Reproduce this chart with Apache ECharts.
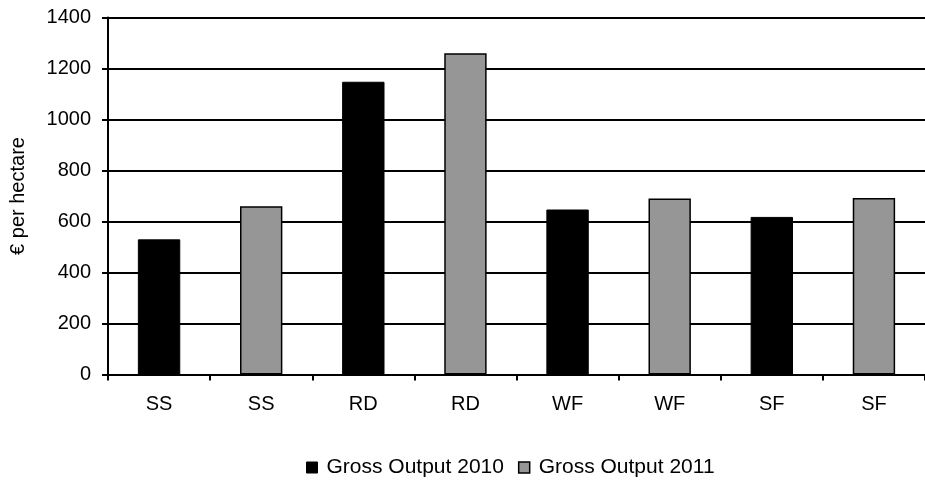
<!DOCTYPE html>
<html>
<head>
<meta charset="utf-8">
<script src="https://cdn.jsdelivr.net/npm/echarts@6/dist/echarts.min.js"></script>
<style>html,body{margin:0;padding:0;background:#fff;}#c{width:925px;height:481px;}</style>
</head>
<body>
<div id="c"></div>
<script>
var categories = ['SS', 'SS', 'RD', 'RD', 'WF', 'WF', 'SF', 'SF'];
var output2010 = [530, null, 1148, null, 647, null, 618, null];
var output2011 = [null, 660, null, 1260, null, 690, null, 692];
var yTicks = [0, 200, 400, 600, 800, 1000, 1200, 1400];

var chart = echarts.init(document.getElementById('c'));
var font = 'Liberation Sans, Arial, sans-serif';
chart.setOption({
  animation: false,
  textStyle: {fontFamily: font},
  grid: {left: 107, right: 0, top: 17.5, bottom: 106.5, containLabel: false},
  legend: {
    bottom: -2,
    left: 301,
    itemWidth: 11,
    itemHeight: 11,
    itemGap: 14,
    icon: 'rect',
    textStyle: {fontFamily: font, fontSize: 21, color: '#000', padding: [0, 0, 0, 4]},
    data: [
      {name: 'Gross Output 2010', itemStyle: {color: '#000', borderColor: '#000', borderWidth: 1}},
      {name: 'Gross Output 2011', itemStyle: {color: '#969696', borderColor: '#000', borderWidth: 1.5}}
    ]
  },
  xAxis: {
    type: 'category',
    data: categories,
    boundaryGap: true,
    axisLine: {lineStyle: {color: '#000', width: 2}},
    axisTick: {show: true, length: 6, inside: false, alignWithLabel: false, lineStyle: {color: '#000', width: 2}},
    axisLabel: {fontFamily: font, fontSize: 20, color: '#000', margin: 20}
  },
  yAxis: {
    type: 'value',
    min: yTicks[0],
    max: yTicks[yTicks.length - 1],
    interval: 200,
    name: '€ per hectare',
    nameLocation: 'middle',
    nameRotate: 90,
    nameGap: 80,
    nameTextStyle: {fontFamily: font, fontSize: 20, color: '#000'},
    axisLine: {show: true, lineStyle: {color: '#000', width: 2}},
    axisTick: {show: true, length: 6, lineStyle: {color: '#000', width: 2}},
    axisLabel: {fontFamily: font, fontSize: 20, color: '#000', margin: 17,
      formatter: function (v) { return String(v); }},
    splitLine: {show: true, lineStyle: {color: '#000', width: 2}}
  },
  series: [
    {
      name: 'Gross Output 2010',
      type: 'bar',
      data: output2010,
      barWidth: '41.5%',
      barGap: '-100%',
      itemStyle: {color: '#000', borderColor: '#000', borderWidth: 1}
    },
    {
      name: 'Gross Output 2011',
      type: 'bar',
      data: output2011,
      barWidth: '41.5%',
      barGap: '-100%',
      itemStyle: {color: '#969696', borderColor: '#000', borderWidth: 1.5}
    }
  ]
});
</script>
</body>
</html>
